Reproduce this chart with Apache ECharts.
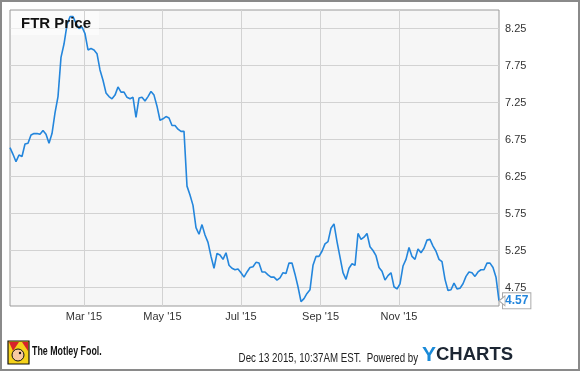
<!DOCTYPE html>
<html><head><meta charset="utf-8">
<script src="https://cdn.jsdelivr.net/npm/echarts@6/dist/echarts.min.js"></script>
<style>html,body{margin:0;padding:0;background:#fff}#c{width:580px;height:371px}</style>
</head><body><div id="c"></div>
<script>
const chartTitle = 'FTR Price';
const startTime = new Date(2015, 0, 2, 10, 40).getTime();
const stepHours = 56;
const prices = [
  6.64,6.55,6.45,6.54,6.52,6.69,6.70,6.81,6.83,6.83,
  6.82,6.87,6.82,6.70,6.83,7.11,7.33,7.86,8.04,8.30,
  8.41,8.41,8.32,8.25,8.27,8.18,7.96,7.98,7.96,7.91,
  7.69,7.55,7.38,7.33,7.30,7.35,7.46,7.39,7.39,7.32,
  7.30,7.32,7.05,7.31,7.32,7.27,7.33,7.40,7.35,7.20,
  7.01,7.03,7.06,7.04,6.94,6.94,6.89,6.86,6.86,6.12,
  6.00,5.86,5.56,5.47,5.60,5.46,5.36,5.17,5.01,5.21,
  5.19,5.13,5.22,5.05,5.01,4.99,5.00,4.95,4.89,4.96,
  5.02,5.03,5.09,5.08,4.96,4.96,4.92,4.89,4.89,4.85,
  4.88,4.95,4.94,5.08,5.08,4.93,4.76,4.56,4.60,4.67,
  4.72,5.05,5.17,5.17,5.24,5.34,5.37,5.55,5.61,5.37,
  5.16,4.95,4.86,5.01,5.07,5.05,5.48,5.40,5.43,5.48,
  5.30,5.25,5.18,5.02,4.97,4.85,4.91,4.95,4.76,4.73,
  4.80,5.04,5.13,5.29,5.17,5.13,5.27,5.22,5.28,5.39,
  5.40,5.31,5.24,5.13,5.10,4.86,4.71,4.72,4.81,4.73,
  4.74,4.80,4.90,4.96,4.95,4.90,4.96,4.99,4.99,5.08,
  5.08,5.02,4.89,4.57
];
const yTicks = [4.75, 5.25, 5.75, 6.25, 6.75, 7.25, 7.75, 8.25];
const xTickDates = [[2015,3,1],[2015,5,1],[2015,7,1],[2015,9,1],[2015,11,1]];
const xTickLabels = ["Mar '15", "May '15", "Jul '15", "Sep '15", "Nov '15"];
const footerBrand = 'The Motley Fool.';
const footerStamp = 'Dec 13 2015, 10:37AM EST.  Powered by';

const stepMs = stepHours * 3600 * 1000;
const seriesData = prices.map((p, i) => [startTime + i * stepMs, p]);
const xTickTs = xTickDates.map(d => new Date(d[0], d[1] - 1, d[2]).getTime());
const lastTime = startTime + (prices.length - 1) * stepMs;
const lastPrice = prices[prices.length - 1];
const baseFont = "'Liberation Sans', Arial, sans-serif";

const chart = echarts.init(document.getElementById('c'), null, {renderer: 'canvas'});
chart.setOption({
  animation: false,
  backgroundColor: '#ffffff',
  grid: {left: 10, top: 10, width: 489, height: 296, show: true,
         backgroundColor: '#f6f6f6', borderColor: '#9a9a9a', borderWidth: 1},
  xAxis: {
    type: 'time', min: startTime, max: lastTime,
    axisLine: {show: false}, axisTick: {show: false},
    axisLabel: {show: false}, splitLine: {show: false}
  },
  yAxis: {
    type: 'value', position: 'right', min: 4.5, max: 8.5,
    axisLine: {show: false},
    axisTick: {show: false, customValues: yTicks},
    axisLabel: {customValues: yTicks, margin: 6, color: '#333', fontSize: 11,
      fontFamily: baseFont, formatter: v => Number(v).toFixed(2)},
    splitLine: {show: true, lineStyle: {color: '#d2d2d2', width: 1}}
  },
  series: [{
    type: 'line', data: seriesData, showSymbol: false, symbol: 'none',
    lineStyle: {color: '#2486dc', width: 1.6},
    z: 3,
    endLabel: {
      show: true, distance: 4,
      formatter: p => Number(p.value[1]).toFixed(2),
      color: '#2486dc', fontWeight: 'bold', fontSize: 12, fontFamily: baseFont,
      backgroundColor: '#ffffff', borderColor: '#aaaaaa', borderWidth: 1,
      padding: [1, 2, 1, 2], lineHeight: 13
    },
    markLine: {
      silent: true, z: 1, symbol: ['none', 'none'], animation: false,
      lineStyle: {color: '#d2d2d2', width: 1, type: 'solid'},
      label: {show: true, position: 'start', distance: 5, color: '#333', fontSize: 11,
        fontFamily: baseFont, formatter: p => xTickLabels[p.dataIndex]},
      emphasis: {disabled: true},
      data: xTickTs.map(t => ({xAxis: t}))
    },
    markPoint: {
      silent: true,
      symbol: 'path://M0,5L6,0L6,10Z', symbolSize: [6, 10], symbolOffset: [3, 0],
      itemStyle: {color: '#ffffff', borderColor: '#aaaaaa', borderWidth: 1},
      label: {show: false},
      data: [{coord: [lastTime, lastPrice]}]
    }
  }],
  graphic: [
    {type: 'rect', z: 100, silent: true, shape: {x: 1, y: 1, width: 578, height: 369},
     style: {fill: 'none', stroke: '#8a8a8a', lineWidth: 2}},
    {type: 'rect', z: 1, silent: true, shape: {x: 11, y: 11, width: 88, height: 24},
     style: {fill: 'rgba(255,255,255,0.6)'}},
    {type: 'text', z: 100, x: 21, y: 24, style: {text: chartTitle, fill: '#111',
      fontSize: 15, fontWeight: 'bold', fontFamily: baseFont,
      verticalAlign: 'middle', align: 'left'}},
    {type: 'rect', z: 100, shape: {x: 8, y: 341, width: 21, height: 23},
     style: {fill: '#f5d21c', stroke: '#111', lineWidth: 1.2}},
    {type: 'polygon', z: 101, shape: {points: [[9, 342], [19, 342], [13, 351]]}, style: {fill: '#d8232a'}},
    {type: 'polygon', z: 101, shape: {points: [[22, 342], [28, 342], [28, 351]]}, style: {fill: '#d8232a'}},
    {type: 'circle', z: 102, shape: {cx: 18, cy: 355, r: 6}, style: {fill: '#f7c9a2', stroke: '#111', lineWidth: 1}},
    {type: 'circle', z: 103, shape: {cx: 20, cy: 353, r: 1.2}, style: {fill: '#111'}},
    {type: 'text', z: 100, x: 32, y: 351, scaleX: 0.68, style: {text: footerBrand, fill: '#111',
      fontSize: 13, fontWeight: 'bold', fontFamily: baseFont, verticalAlign: 'middle', align: 'left'}},
    {type: 'text', z: 100, x: 418, y: 359, scaleX: 0.81, style: {text: footerStamp, fill: '#222',
      fontSize: 12, fontFamily: baseFont, verticalAlign: 'middle', align: 'right'}},
    {type: 'text', z: 100, x: 422, y: 355, style: {
      text: '{y|Y}{c|CHARTS}', verticalAlign: 'middle', align: 'left',
      rich: {
        y: {fontSize: 21, fontWeight: 'bold', fill: '#1a8ad8', fontFamily: baseFont},
        c: {fontSize: 18.5, fontWeight: 'bold', fill: '#1c2633', fontFamily: baseFont}
      }}}
  ]
});
</script></body></html>
